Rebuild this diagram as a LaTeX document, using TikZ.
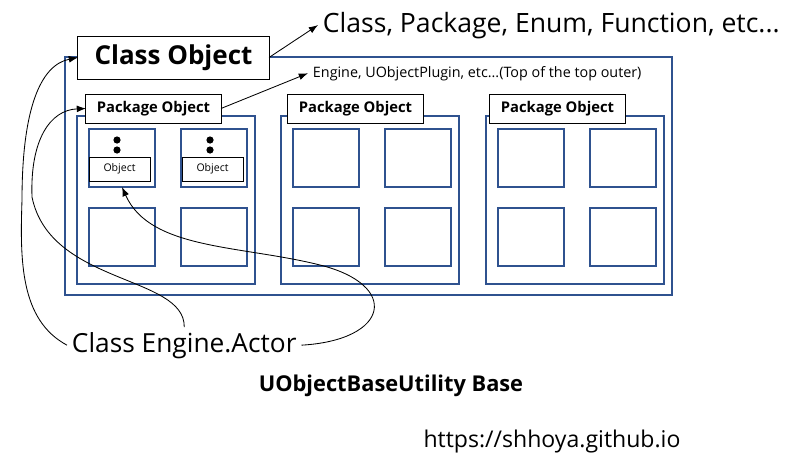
\documentclass[tikz,border=0pt]{standalone}
\usepackage{fontspec}
\setmainfont{Open Sans}
\usetikzlibrary{arrows.meta}
\definecolor{boxblue}{RGB}{47,82,143}

\begin{document}
\begin{tikzpicture}[x=0.025cm, y=-0.025cm, >={Latex[length=2.3mm,width=1.7mm]},
  bluebox/.style={draw=boxblue, line width=1.7pt, outer sep=0pt, anchor=north west},
  frame/.style={bluebox, minimum width=15.175cm, minimum height=5.95cm},
  pkgbox/.style={bluebox, minimum width=4.45cm, minimum height=4.2cm},
  cell/.style={bluebox, minimum width=1.65cm, minimum height=1.45cm},
  labelbox/.style={draw, fill=white, line width=0.7pt, inner sep=0pt, outer sep=0pt},
  pkglabel/.style={labelbox, minimum width=3.375cm, minimum height=0.725cm, font=\bfseries\fontsize{10.5}{12}\selectfont},
  objbox/.style={labelbox, anchor=north west, minimum width=1.525cm, minimum height=0.6cm, font=\fontsize{7.5}{8}\selectfont},
  dot/.style={circle, fill, inner sep=0pt, minimum size=1.8mm}]
  \useasboundingbox (0,0) rectangle (800,460);

  % outer frame and the three packages
  \node[frame] (frame) at (65,57) {};
  \foreach \p/\x in {A/77, B/281, C/486} {
    \node[pkgbox] (pkg\p) at (\x,116) {};
    \node[cell] (cell\p1) at (\x+12,129) {};
    \node[cell] (cell\p2) at (\x+104,129) {};
    \node[cell] (cell\p3) at (\x+12,208) {};
    \node[cell] (cell\p4) at (\x+104,208) {};
  }
  \node[pkglabel] (lblA) at (153.5,108.5) {Package Object};
  \node[pkglabel] (lblB) at (355.5,108.5) {Package Object};
  \node[pkglabel] (lblC) at (557.5,108.5) {Package Object};

  % objects inside the first package
  \node[objbox] (objA) at (89,157) {Object};
  \node[objbox] (objB) at (182,157) {Object};
  \foreach \x in {117, 210} {
    \node[dot] at (\x,140) {};
    \node[dot] at (\x,150) {};
  }

  \node[labelbox, minimum width=4.775cm, minimum height=1.075cm,
    font=\bfseries\fontsize{18.5}{20}\selectfont] (cls) at (173.5,57.5) {Class Object};

  % texts
  \node[anchor=base west, font=\fontsize{18.9}{22}\selectfont] (kinds) at (318,32)
    {Class, Package, Enum, Function, etc...};
  \node[anchor=base west, font=\fontsize{10.2}{12}\selectfont] (top) at (308,77)
    {Engine, UObjectPlugin, etc...(Top of the top outer)};
  \node[anchor=base west, font=\fontsize{18.7}{20}\selectfont] (actor) at (67,352)
    {Class Engine.Actor};
  \node[anchor=base, font=\bfseries\fontsize{15.5}{17}\selectfont] (base) at (391,391)
    {UObjectBaseUtility Base};
  \node[anchor=base, font=\fontsize{16.4}{18}\selectfont] (url) at (552,447)
    {https://shhoya.github.io};

  % connectors
  \draw[->, line width=0.6pt] (cls.east) -- (kinds.west);
  \draw[->, line width=0.6pt] (lblA.east) -- (top.west);
  \draw[->, line width=0.6pt] (actor.west) .. controls (20,320) and (20,260) .. (22,200)
    .. controls (22,110) and (40,65) .. (cls.west);
  \draw[->, line width=0.6pt] (actor.north) .. controls (185,275) and (50,285) .. (32,197)
    .. controls (30,140) and (50,110) .. (lblA.west);
  \draw[->, line width=0.6pt] (actor.east) .. controls (390,340) and (400,285) .. (320,265)
    .. controls (240,245) and (150,250) .. (cellA1.south);
\end{tikzpicture}
\end{document}
